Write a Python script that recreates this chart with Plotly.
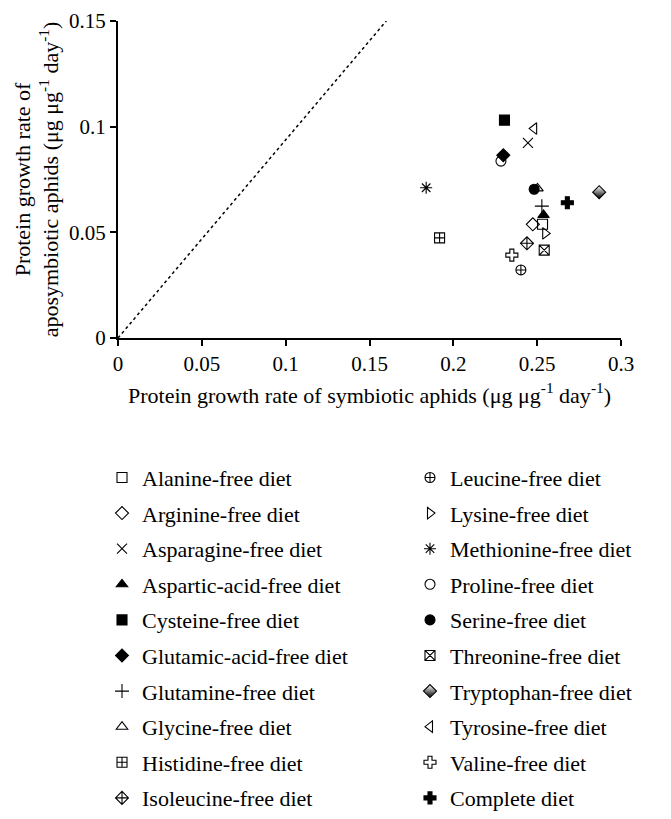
import plotly.graph_objects as go

diets = ["Alanine-free diet", "Arginine-free diet", "Asparagine-free diet", "Aspartic-acid-free diet",
         "Cysteine-free diet", "Glutamic-acid-free diet", "Glutamine-free diet", "Glycine-free diet",
         "Histidine-free diet", "Isoleucine-free diet", "Leucine-free diet", "Lysine-free diet",
         "Methionine-free diet", "Proline-free diet", "Serine-free diet", "Threonine-free diet",
         "Tryptophan-free diet", "Tyrosine-free diet", "Valine-free diet", "Complete diet"]
symbiotic = [0.2532, 0.2474, 0.2445, 0.2538, 0.2305, 0.2298, 0.2528, 0.2502, 0.1918, 0.2439,
             0.2403, 0.2548, 0.1838, 0.2284, 0.2482, 0.2542, 0.2870, 0.2482, 0.2349, 0.2680]
aposymbiotic = [0.0538, 0.0538, 0.0923, 0.0582, 0.1031, 0.0865, 0.0624, 0.0708, 0.0474, 0.0448,
                0.0322, 0.0495, 0.0711, 0.0837, 0.0704, 0.0416, 0.0690, 0.0991, 0.0392, 0.0640]
symbols = ["square-open", "diamond-open", "x-thin-open", "triangle-up", "square", "diamond",
           "cross-thin-open", "triangle-up-open", "square-cross-open", "diamond-cross-open",
           "circle-cross-open", "triangle-right-open", "asterisk-open", "circle-open", "circle",
           "square-x-open", "diamond", "triangle-left-open", "cross-open", "cross"]
line_x = [0, 0.16]
line_y = [0, 0.15]

x_ticks = [0, 0.05, 0.1, 0.15, 0.2, 0.25, 0.3]
x_tick_labels = ["0", "0.05", "0.1", "0.15", "0.2", "0.25", "0.3"]
y_ticks = [0, 0.05, 0.1, 0.15]
y_tick_labels = ["0", "0.05", "0.1", "0.15"]

FONT = "Liberation Serif"
fig = go.Figure()
fig.add_trace(go.Scatter(x=line_x, y=line_y, mode="lines",
                         line=dict(color="black", width=1.5, dash="dot"),
                         showlegend=False, hoverinfo="skip"))

for i, (name, xv, yv, sym) in enumerate(zip(diets, symbiotic, aposymbiotic, symbols)):
    marker = dict(symbol=sym, size=10, color="black", line=dict(color="black", width=1.1))
    if name.startswith("Tryptophan"):
        marker = dict(symbol="diamond", size=10, color="white",
                      gradient=dict(type="vertical", color="black"),
                      line=dict(color="black", width=1.1))
    fig.add_trace(go.Scatter(x=[xv], y=[yv], mode="markers", name=name, marker=marker,
                             legend="legend" if i < 10 else "legend2",
                             legendgroup=name))

# the page body adds an 8px offset, so the figure is 8px smaller than the window
fig.update_layout(
    width=663, height=811,
    margin=dict(l=110, r=50, t=13, b=481, autoexpand=False),
    plot_bgcolor="white", paper_bgcolor="white",
    font=dict(family=FONT, size=21, color="black"),
    xaxis=dict(range=[0, 0.3], tickvals=x_ticks, ticktext=x_tick_labels,
               showgrid=False, zeroline=False, showline=True, linecolor="black", linewidth=2,
               ticks="outside", ticklen=6, tickwidth=1.5, tickcolor="black",
               tickfont=dict(family=FONT, size=21),
               title=dict(text="Protein growth rate of symbiotic aphids (μg μg<sup>-1</sup> day<sup>-1</sup>)",
                          font=dict(family=FONT, size=22), standoff=12)),
    yaxis=dict(range=[0, 0.15], tickvals=y_ticks, ticktext=y_tick_labels,
               showgrid=False, zeroline=False, showline=True, linecolor="black", linewidth=2,
               ticks="outside", ticklen=6, tickwidth=1.5, tickcolor="black",
               tickfont=dict(family=FONT, size=21),
               title=dict(text="Protein growth rate of<br>aposymbiotic aphids (μg μg<sup>-1</sup> day<sup>-1</sup>)",
                          font=dict(family=FONT, size=22), standoff=4)),
    legend=dict(x=-0.0318, y=-0.3744, xanchor="left", yanchor="top", orientation="v",
                font=dict(family=FONT, size=22), tracegroupgap=4, bgcolor="rgba(0,0,0,0)"),
    legend2=dict(x=0.5805, y=-0.3744, xanchor="left", yanchor="top", orientation="v",
                 font=dict(family=FONT, size=22), tracegroupgap=4, bgcolor="rgba(0,0,0,0)"),
)

fig.write_html("out.html")
